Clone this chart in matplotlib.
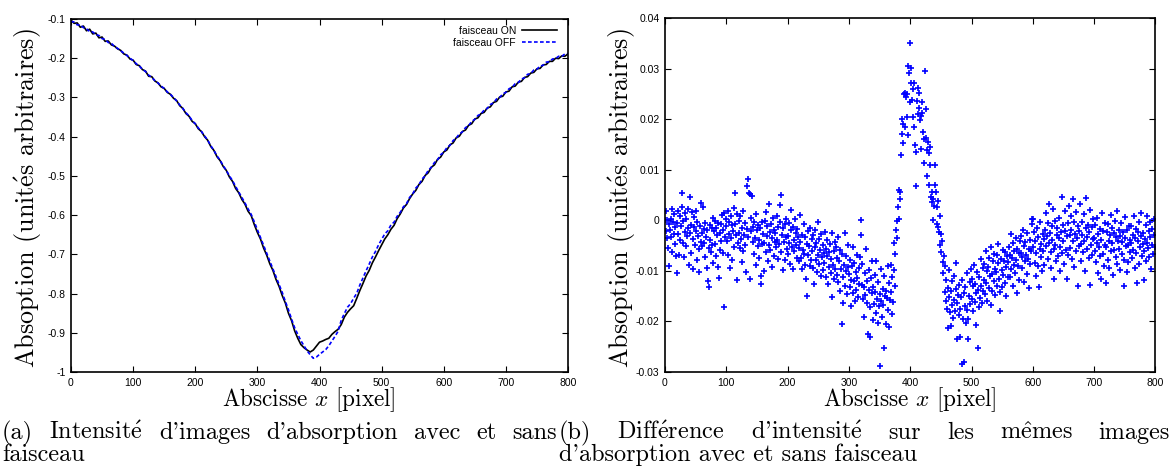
import numpy as np
import matplotlib
matplotlib.use("Agg")
import matplotlib.pyplot as plt

plt.rcParams['mathtext.fontset'] = 'cm'

W, H = 1172, 466

# ---------------- data ----------------
x_profile = np.arange(0, 801, 5)

absorption_on = [
    -0.103, -0.111, -0.110, -0.121, -0.118, -0.130, -0.126, -0.138, -0.136, -0.148,
    -0.146, -0.157, -0.156, -0.166, -0.169, -0.176, -0.180, -0.189, -0.192, -0.202,
    -0.205, -0.216, -0.219, -0.229, -0.233, -0.246, -0.247, -0.258, -0.263, -0.273,
    -0.277, -0.287, -0.292, -0.302, -0.308, -0.321, -0.328, -0.341, -0.348, -0.361,
    -0.367, -0.380, -0.387, -0.400, -0.409, -0.425, -0.435, -0.451, -0.461, -0.476,
    -0.486, -0.503, -0.514, -0.532, -0.543, -0.560, -0.572, -0.590, -0.601, -0.624,
    -0.644, -0.661, -0.684, -0.702, -0.724, -0.741, -0.764, -0.782, -0.805, -0.824,
    -0.850, -0.869, -0.895, -0.914, -0.930, -0.938, -0.944, -0.949, -0.944, -0.934,
    -0.924, -0.921, -0.917, -0.914, -0.904, -0.897, -0.891, -0.879, -0.860, -0.848,
    -0.839, -0.831, -0.812, -0.792, -0.774, -0.755, -0.741, -0.722, -0.707, -0.691,
    -0.676, -0.661, -0.650, -0.636, -0.626, -0.609, -0.597, -0.582, -0.573, -0.558,
    -0.546, -0.537, -0.522, -0.514, -0.499, -0.492, -0.478, -0.472, -0.458, -0.452,
    -0.439, -0.434, -0.421, -0.416, -0.403, -0.399, -0.387, -0.383, -0.371, -0.367,
    -0.355, -0.352, -0.341, -0.338, -0.327, -0.324, -0.313, -0.310, -0.299, -0.297,
    -0.286, -0.284, -0.273, -0.271, -0.261, -0.259, -0.249, -0.247, -0.238, -0.236,
    -0.227, -0.226, -0.217, -0.216, -0.208, -0.208, -0.200, -0.201, -0.194, -0.195,
    -0.189,
]

absorption_off = [
    -0.106, -0.108, -0.115, -0.115, -0.122, -0.125, -0.132, -0.133, -0.140, -0.142,
    -0.150, -0.152, -0.160, -0.162, -0.170, -0.175, -0.181, -0.187, -0.193, -0.200,
    -0.206, -0.214, -0.220, -0.228, -0.234, -0.243, -0.249, -0.257, -0.263, -0.271,
    -0.277, -0.286, -0.292, -0.300, -0.309, -0.319, -0.328, -0.339, -0.347, -0.359,
    -0.367, -0.378, -0.387, -0.398, -0.409, -0.423, -0.435, -0.449, -0.460, -0.474,
    -0.486, -0.500, -0.512, -0.527, -0.541, -0.555, -0.569, -0.584, -0.598, -0.617,
    -0.637, -0.657, -0.677, -0.697, -0.717, -0.737, -0.757, -0.777, -0.797, -0.820,
    -0.841, -0.865, -0.887, -0.904, -0.920, -0.933, -0.946, -0.956, -0.965, -0.962,
    -0.955, -0.949, -0.943, -0.933, -0.921, -0.909, -0.896, -0.868, -0.851, -0.835,
    -0.826, -0.812, -0.799, -0.778, -0.760, -0.742, -0.725, -0.707, -0.693, -0.676,
    -0.662, -0.648, -0.640, -0.625, -0.618, -0.603, -0.593, -0.579, -0.571, -0.555,
    -0.546, -0.531, -0.523, -0.508, -0.500, -0.486, -0.478, -0.466, -0.459, -0.446,
    -0.440, -0.428, -0.422, -0.410, -0.404, -0.393, -0.388, -0.377, -0.372, -0.361,
    -0.356, -0.346, -0.342, -0.332, -0.328, -0.318, -0.314, -0.304, -0.300, -0.291,
    -0.287, -0.278, -0.274, -0.265, -0.262, -0.253, -0.250, -0.241, -0.239, -0.230,
    -0.228, -0.220, -0.218, -0.210, -0.209, -0.202, -0.201, -0.195, -0.195, -0.189,
    -0.188,
]

x_diff = np.arange(0, 800)

diff_on_off = [
    # 0-19
    0.0, -2.1e-3, 1.8e-3, -3.6e-3, 0.0, -5.4e-3, -0.8e-3, -9.0e-3, -1.9e-3, 0.2e-3,
    -3.3e-3, 2.3e-3, -6.2e-3, -0.4e-3, -2.8e-3, 1.2e-3, -4.6e-3, -1.3e-3, -7.1e-3, -10.4e-3,
    # 20-39
    -0.6e-3, 1.9e-3, -2.7e-3, -6.8e-3, 0.9e-3, -3.9e-3, -1.2e-3, 2.6e-3, 5.4e-3, -4.4e-3,
    -0.2e-3, -7.3e-3, 1.4e-3, -2.3e-3, -5.1e-3, 0.3e-3, -3.1e-3, 2.2e-3, -1.6e-3, -8.8e-3,
    # 40-59
    4.7e-3, -2.5e-3, -0.9e-3, -6.5e-3, 1.6e-3, -3.7e-3, -9.6e-3, -1.4e-3, 0.6e-3, -4.9e-3,
    -2.2e-3, 1.9e-3, -7.8e-3, -0.3e-3, -3.2e-3, -5.6e-3, -10.3e-3, -1.1e-3, 3.5e-3, -4.2e-3,
    # 60-79
    -2.6e-3, -5.0e-3, 2.7e-3, -1.8e-3, -4.4e-3, -0.6e-3, -7.2e-3, -3.3e-3, -9.4e-3, -2.0e-3,
    -12.1e-3, -5.5e-3, -13.2e-3, -0.9e-3, -3.8e-3, -6.3e-3, -1.5e-3, -4.9e-3, 0.4e-3, -8.4e-3,
    # 80-99
    -2.2e-3, -0.1e-3, -4.6e-3, -1.5e-3, -7.0e-3, -3.0e-3, -0.5e-3, -9.3e-3, -11.4e-3, -2.6e-3,
    -5.8e-3, -0.8e-3, -4.1e-3, 1.0e-3, -6.5e-3, -1.9e-3, -17.1e-3, 1.5e-3, -3.4e-3, 0.3e-3,
    # 100-119
    -1.2e-3, -4.0e-3, 1.8e-3, -6.8e-3, -0.4e-3, -2.7e-3, -9.5e-3, 0.9e-3, -3.6e-3, -1.0e-3,
    -7.9e-3, -2.1e-3, 2.4e-3, -5.2e-3, 5.4e-3, -0.7e-3, -3.0e-3, -11.9e-3, 1.3e-3, -4.5e-3,
    # 120-139
    -0.2e-3, -2.6e-3, -5.4e-3, 0.8e-3, -3.7e-3, -8.2e-3, -1.5e-3, 1.9e-3, -6.0e-3, -2.9e-3,
    -0.6e-3, -4.8e-3, -10.2e-3, -1.8e-3, 6.8e-3, 8.1e-3, -3.4e-3, 5.4e-3, -11.7e-3, 5.2e-3,
    # 140-159
    -2.1e-3, 0.5e-3, 4.9e-3, -4.3e-3, -1.4e-3, -6.7e-3, -0.3e-3, -3.5e-3, -8.9e-3, 1.2e-3,
    -2.0e-3, -5.1e-3, -0.9e-3, -3.9e-3, -7.5e-3, -1.6e-3, -11.1e-3, -12.6e-3, -4.6e-3, -0.4e-3,
    # 160-179
    -2.8e-3, -10.1e-3, -4.5e-3, -0.2e-3, -6.2e-3, 1.6e-3, -3.1e-3, -1.2e-3, -8.0e-3, -4.9e-3,
    3.2e-3, -2.4e-3, -5.8e-3, -0.7e-3, -9.3e-3, -3.6e-3, 0.5e-3, -1.9e-3, -7.1e-3, -4.2e-3,
    # 180-199
    -2.5e-3, -5.3e-3, 0.9e-3, -3.8e-3, -1.3e-3, -7.6e-3, -4.7e-3, -0.4e-3, 3.0e-3, -6.3e-3,
    5.0e-3, -2.9e-3, -9.8e-3, -1.6e-3, -4.2e-3, -0.8e-3, -7.9e-3, -3.3e-3, 0.2e-3, -5.6e-3,
    # 200-219
    -3.1e-3, -6.7e-3, -0.6e-3, -4.4e-3, -8.6e-3, -2.0e-3, 2.0e-3, -5.2e-3, -1.3e-3, -9.7e-3,
    -3.9e-3, -6.0e-3, 0.3e-3, -2.6e-3, -4.9e-3, -7.4e-3, -1.8e-3, -3.4e-3, -8.1e-3, -5.5e-3,
    # 220-239
    1.1e-3, -4.2e-3, -7.5e-3, -2.9e-3, -9.6e-3, -5.8e-3, -0.8e-3, -6.6e-3, -3.3e-3, -8.9e-3,
    -11.7e-3, -4.7e-3, -15.0e-3, -2.2e-3, -6.9e-3, -5.1e-3, -9.0e-3, -1.5e-3, -7.8e-3, -3.7e-3,
    # 240-259
    -6.1e-3, -3.0e-3, -9.4e-3, -12.6e-3, -5.2e-3, -1.9e-3, -7.8e-3, -4.4e-3, -10.3e-3, -6.8e-3,
    -0.3e-3, -8.6e-3, -3.7e-3, -5.9e-3, -11.0e-3, -2.7e-3, -7.2e-3, -9.9e-3, -4.9e-3, -6.4e-3,
    # 260-279
    -8.4e-3, -2.3e-3, -5.6e-3, -11.2e-3, -7.0e-3, -3.9e-3, -12.5e-3, -9.3e-3, -6.2e-3, -4.7e-3,
    -10.4e-3, -7.7e-3, -2.5e-3, -15.1e-3, -8.9e-3, -6.0e-3, -11.6e-3, -4.2e-3, -9.6e-3, -5.3e-3,
    # 280-299
    -7.4e-3, -10.8e-3, -3.4e-3, -12.3e-3, -8.1e-3, -5.8e-3, -13.9e-3, -9.7e-3, -20.6e-3, -6.6e-3,
    -11.3e-3, -16.4e-3, -8.8e-3, -2.6e-3, -12.9e-3, -10.1e-3, -7.0e-3, -14.6e-3, -9.2e-3, -4.8e-3,
    # 300-319
    -10.6e-3, -13.2e-3, -7.9e-3, -16.9e-3, -11.8e-3, -9.0e-3, -5.3e-3, -14.4e-3, -12.1e-3, -8.4e-3,
    -16.0e-3, -10.2e-3, -13.7e-3, -6.8e-3, -11.4e-3, -15.2e-3, -9.5e-3, -12.6e-3, -7.3e-3, -3.0e-3,
    # 320-339
    0.0, -12.7e-3, -8.6e-3, -15.6e-3, -13.1e-3, -19.1e-3, -10.4e-3, -14.8e-3, -5.7e-3, -12.0e-3,
    -16.3e-3, -22.5e-3, -9.9e-3, -13.8e-3, -17.2e-3, -23.0e-3, -11.5e-3, -14.3e-3, -8.1e-3, -19.7e-3,
    # 340-359
    -13.2e-3, -16.5e-3, -10.9e-3, -14.1e-3, -18.4e-3, -8.0e-3, -15.5e-3, -12.3e-3, -20.4e-3, -17.0e-3,
    -14.6e-3, -28.8e-3, -9.6e-3, -15.9e-3, -19.2e-3, -13.6e-3, -16.8e-3, -11.1e-3, -25.2e-3, -14.9e-3,
    # 360-379
    -20.5e-3, -13.9e-3, -15.4e-3, -9.1e-3, -17.7e-3, -21.2e-3, -12.4e-3, -15.8e-3, -8.9e-3, -14.2e-3,
    -18.6e-3, -11.3e-3, -16.1e-3, -9.8e-3, -4.4e-3, -6.6e-3, -13.0e-3, -2.0e-3, -0.1e-3, -3.6e-3,
    # 380-399
    2.7e-3, 6.0e-3, 0.2e-3, 5.6e-3, 4.2e-3, 12.9e-3, 17.1e-3, 20.0e-3, 19.0e-3, 15.3e-3,
    24.9e-3, 18.5e-3, 25.2e-3, 24.4e-3, 20.5e-3, 25.0e-3, 16.8e-3, 30.6e-3, 29.2e-3, 23.3e-3,
    # 400-419
    35.0e-3, 30.2e-3, 27.1e-3, 23.8e-3, 20.5e-3, 26.0e-3, 27.2e-3, 18.5e-3, 14.9e-3, 13.5e-3,
    6.8e-3, 23.6e-3, 21.0e-3, 26.1e-3, 25.2e-3, 22.3e-3, 19.9e-3, 14.0e-3, 20.6e-3, 23.4e-3,
    # 420-439
    21.2e-3, 17.5e-3, 16.0e-3, 11.4e-3, 29.5e-3, 22.1e-3, 16.3e-3, 13.8e-3, 8.8e-3, 15.4e-3,
    6.9e-3, 13.3e-3, 14.5e-3, 11.0e-3, 4.6e-3, 5.5e-3, 3.6e-3, 0.1e-3, 4.2e-3, 2.9e-3,
    # 440-459
    11.0e-3, 6.9e-3, 5.6e-3, 2.7e-3, -0.7e-3, 3.8e-3, -1.3e-3, -2.3e-3, 0.9e-3, -4.9e-3,
    -2.8e-3, -6.2e-3, -4.0e-3, -8.2e-3, -10.5e-3, -7.1e-3, -9.0e-3, -14.1e-3, -11.9e-3, -16.0e-3,
    # 460-479
    -17.6e-3, -13.4e-3, -21.3e-3, -15.1e-3, -9.8e-3, -18.2e-3, -14.0e-3, -21.0e-3, -16.7e-3, -12.1e-3,
    -19.4e-3, -15.8e-3, -11.0e-3, -17.9e-3, -13.6e-3, -8.4e-3, -16.3e-3, -23.5e-3, -14.7e-3, -18.8e-3,
    # 480-499
    -12.8e-3, -23.0e-3, -17.5e-3, -15.2e-3, -28.4e-3, -11.9e-3, -19.6e-3, -14.4e-3, -28.0e-3, -16.9e-3,
    -13.1e-3, -20.3e-3, -10.5e-3, -17.8e-3, -19.5e-3, -23.4e-3, -14.9e-3, -12.2e-3, -16.6e-3, -9.7e-3,
    # 500-519
    -15.6e-3, -11.6e-3, -18.0e-3, -13.0e-3, -8.9e-3, -16.1e-3, -12.5e-3, -20.7e-3, -14.3e-3, -10.3e-3,
    -25.2e-3, -13.7e-3, -17.1e-3, -11.2e-3, -15.3e-3, -7.6e-3, -12.9e-3, -16.4e-3, -9.4e-3, -14.0e-3,
    # 520-539
    -11.8e-3, -8.7e-3, -14.6e-3, -12.4e-3, -6.1e-3, -10.0e-3, -15.9e-3, -9.2e-3, -13.3e-3, -7.4e-3,
    -11.0e-3, -16.8e-3, -5.3e-3, -10.6e-3, -13.9e-3, -8.1e-3, -12.1e-3, -6.6e-3, -9.6e-3, -14.8e-3,
    # 540-559
    -10.2e-3, -6.8e-3, -12.9e-3, -8.5e-3, -4.7e-3, -11.6e-3, -14.2e-3, -18.0e-3, -7.6e-3, -9.9e-3,
    -13.1e-3, -5.8e-3, -10.8e-3, -8.0e-3, -12.4e-3, -6.3e-3, -9.3e-3, -15.0e-3, -7.1e-3, -11.2e-3,
    # 560-579
    -8.3e-3, -5.2e-3, -11.3e-3, -6.9e-3, -2.7e-3, -9.6e-3, -7.4e-3, -13.0e-3, -4.5e-3, -8.8e-3,
    -6.1e-3, -10.4e-3, -3.6e-3, -7.9e-3, -14.4e-3, -5.7e-3, -9.1e-3, -6.5e-3, -11.8e-3, -4.0e-3,
    # 580-599
    -6.4e-3, -3.2e-3, -9.5e-3, -7.2e-3, -1.9e-3, -5.0e-3, -12.3e-3, -8.1e-3, -4.3e-3, -6.9e-3,
    -10.7e-3, -2.6e-3, -7.7e-3, -5.6e-3, -13.4e-3, -3.8e-3, -8.6e-3, -6.0e-3, -0.7e-3, 0.3e-3,
    # 600-619
    0.2e-3, -5.3e-3, -2.4e-3, -8.4e-3, -4.1e-3, -11.0e-3, -6.4e-3, -1.5e-3, -9.1e-3, -3.3e-3,
    -13.2e-3, -5.7e-3, -0.4e-3, -7.3e-3, -4.6e-3, -10.1e-3, -2.8e-3, -6.1e-3, -8.8e-3, -3.7e-3,
    # 620-639
    -2.0e-3, -5.0e-3, 1.4e-3, -3.1e-3, -7.6e-3, -0.6e-3, -4.4e-3, 3.3e-3, -2.6e-3, -6.2e-3,
    -9.4e-3, -1.2e-3, -3.8e-3, 2.3e-3, -5.7e-3, -11.6e-3, -0.2e-3, -4.9e-3, -8.0e-3, -2.9e-3,
    # 640-659
    -1.6e-3, -7.0e-3, -3.5e-3, 0.5e-3, -5.3e-3, -10.1e-3, -2.4e-3, -6.5e-3, 4.7e-3, -0.9e-3,
    -4.0e-3, -8.6e-3, -2.1e-3, 1.8e-3, -5.8e-3, -3.2e-3, -11.7e-3, -0.5e-3, -6.8e-3, 2.9e-3,
    # 660-679
    -3.0e-3, -5.4e-3, 0.8e-3, -1.9e-3, -7.7e-3, 4.3e-3, -4.1e-3, -0.3e-3, -9.2e-3, -2.7e-3,
    -6.0e-3, 1.6e-3, -3.6e-3, -12.9e-3, -1.1e-3, -5.0e-3, -2.2e-3, 3.2e-3, -8.1e-3, -4.6e-3,
    # 680-699
    -0.4e-3, -2.9e-3, -6.3e-3, 1.3e-3, -4.0e-3, -10.0e-3, -1.6e-3, 4.4e-3, -5.7e-3, -3.3e-3,
    -0.9e-3, -7.4e-3, -2.4e-3, 2.0e-3, -12.8e-3, -4.8e-3, -1.4e-3, -6.9e-3, 0.2e-3, -3.7e-3,
    # 700-719
    -3.5e-3, -6.1e-3, -1.0e-3, -8.3e-3, -4.4e-3, 0.4e-3, -10.4e-3, -2.7e-3, -5.3e-3, -7.0e-3,
    -1.8e-3, -11.7e-3, -3.9e-3, 1.5e-3, -6.6e-3, -2.2e-3, -9.1e-3, -4.8e-3, -0.6e-3, -12.4e-3,
    # 720-739
    -5.2e-3, -2.3e-3, -7.9e-3, -0.7e-3, -4.1e-3, -9.5e-3, -3.0e-3, 1.0e-3, -6.1e-3, -1.6e-3,
    -4.5e-3, -10.8e-3, -2.6e-3, -5.8e-3, -0.2e-3, -7.2e-3, -3.4e-3, 1.9e-3, -8.6e-3, -4.0e-3,
    # 740-759
    -1.9e-3, -5.6e-3, -3.2e-3, -9.9e-3, -0.6e-3, -6.7e-3, -4.3e-3, -2.4e-3, -13.0e-3, -7.8e-3,
    -3.6e-3, 0.6e-3, -5.1e-3, -10.3e-3, -2.0e-3, -4.9e-3, -8.2e-3, -1.1e-3, -6.2e-3, -3.8e-3,
    # 760-779
    -4.4e-3, -1.2e-3, -7.5e-3, -2.9e-3, -5.8e-3, 0.8e-3, -9.4e-3, -3.5e-3, -6.4e-3, -1.7e-3,
    -12.4e-3, -4.0e-3, -2.3e-3, -8.7e-3, -0.4e-3, -5.2e-3, -3.1e-3, 1.4e-3, -7.0e-3, -4.7e-3,
    # 780-799
    -2.6e-3, -6.0e-3, -11.8e-3, -3.7e-3, -1.0e-3, -8.1e-3, -4.5e-3, 0.9e-3, -5.5e-3, -2.2e-3,
    -7.3e-3, -3.3e-3, -0.3e-3, -9.6e-3, -4.8e-3, -1.8e-3, -6.6e-3, -3.0e-3, 0.2e-3, -5.2e-3,
]

x_ticks = [0, 100, 200, 300, 400, 500, 600, 700, 800]
x_tick_labels = ['0', '100', '200', '300', '400', '500', '600', '700', '800']
yL_ticks = [-1.0, -0.9, -0.8, -0.7, -0.6, -0.5, -0.4, -0.3, -0.2, -0.1]
yL_tick_labels = ['-1', '-0.9', '-0.8', '-0.7', '-0.6', '-0.5', '-0.4', '-0.3', '-0.2', '-0.1']
yR_ticks = [-0.03, -0.02, -0.01, 0.0, 0.01, 0.02, 0.03, 0.04]
yR_tick_labels = ['-0.03', '-0.02', '-0.01', '0', '0.01', '0.02', '0.03', '0.04']

legend_labels = ['faisceau ON', 'faisceau OFF']

# ---------------- figure ----------------
fig = plt.figure(figsize=(W / 100, H / 100), dpi=100)
axL = fig.add_axes([71 / W, 1 - 372 / H, (568 - 71) / W, (372 - 19) / H])
axR = fig.add_axes([665 / W, 1 - 372 / H, (1155.4 - 665) / W, (372 - 18) / H])

BLUE = '#0000ff'


def style(ax, yt, ytl, ylim):
    ax.set_xlim(0, 800)
    ax.set_ylim(*ylim)
    ax.set_xticks(x_ticks)
    ax.set_xticklabels(x_tick_labels)
    ax.set_yticks(yt)
    ax.set_yticklabels(ytl)
    ax.tick_params(direction='in', top=True, right=True, length=4, width=0.8,
                   labelsize=7.5, pad=4, colors='black')
    for lab in ax.get_xticklabels() + ax.get_yticklabels():
        lab.set_fontfamily('Liberation Sans')
    for s in ax.spines.values():
        s.set_linewidth(1.2)


axL.plot(x_profile, absorption_on, color='black', lw=1.2, label=legend_labels[0])
axL.plot(x_profile, absorption_off, color=BLUE, lw=1.2, dashes=(2.2, 1.4),
         label=legend_labels[1])
style(axL, yL_ticks, yL_tick_labels, (-1.0, -0.1))
leg = axL.legend(loc='upper right', bbox_to_anchor=(0.977, 0.98), frameon=False,
                 markerfirst=False, handlelength=3.3, handletextpad=0.6,
                 labelspacing=0.15, borderaxespad=0, borderpad=0,
                 prop={'family': 'Liberation Sans', 'size': 7.5})

axR.plot(x_diff, diff_on_off, linestyle='none', marker='+', color=BLUE,
         ms=4.3, mew=1.2)
style(axR, yR_ticks, yR_tick_labels, (-0.03, 0.04))

# axis labels
lab_kw = dict(family='cmr10', ha='center', va='center')
fig.text(309 / W, 1 - 400 / H, 'Abscisse $x$ [pixel]', fontsize=16.7, **lab_kw)
fig.text(910 / W, 1 - 400 / H, 'Abscisse $x$ [pixel]', fontsize=16.7, **lab_kw)
ylab = r'Absoption (unit$\acute{\mathrm{e}}$s arbitraires)'
fig.text(28 / W, 1 - 198 / H, ylab, rotation=90, fontsize=18.8, **lab_kw)
fig.text(622 / W, 1 - 198 / H, ylab, rotation=90, fontsize=18.8, **lab_kw)

# captions (justified first line, like LaTeX)
CAP = 17.5


def justify(words, x0, x1, ybase):
    ts = [fig.text(x0 / W, 1 - ybase / H, w, fontsize=CAP, family='cmr10',
                   va='baseline', ha='left') for w in words]
    fig.canvas.draw()
    r = fig.canvas.get_renderer()
    ws = [t.get_window_extent(r).width for t in ts]
    gap = (x1 - x0 - sum(ws)) / (len(ws) - 1)
    x = x0
    for t, w in zip(ts, ws):
        t.set_x(x / W)
        x += w + gap


justify(['(a)', r'Intensit$\acute{\mathrm{e}}$', "d'images", "d'absorption",
         'avec', 'et', 'sans'], 2, 557, 439)
fig.text(2 / W, 1 - 461 / H, 'faisceau', fontsize=CAP, family='cmr10', va='baseline')
justify(['(b)', r'Diff$\acute{\mathrm{e}}$rence', r"d'intensit$\acute{\mathrm{e}}$",
         'sur', 'les', r'm$\hat{\mathrm{e}}$mes', 'images'], 559, 1170, 439)
fig.text(559 / W, 1 - 461 / H, "d'absorption avec et sans faisceau", fontsize=CAP,
         family='cmr10', va='baseline')

fig.savefig('out.png', dpi=100)
